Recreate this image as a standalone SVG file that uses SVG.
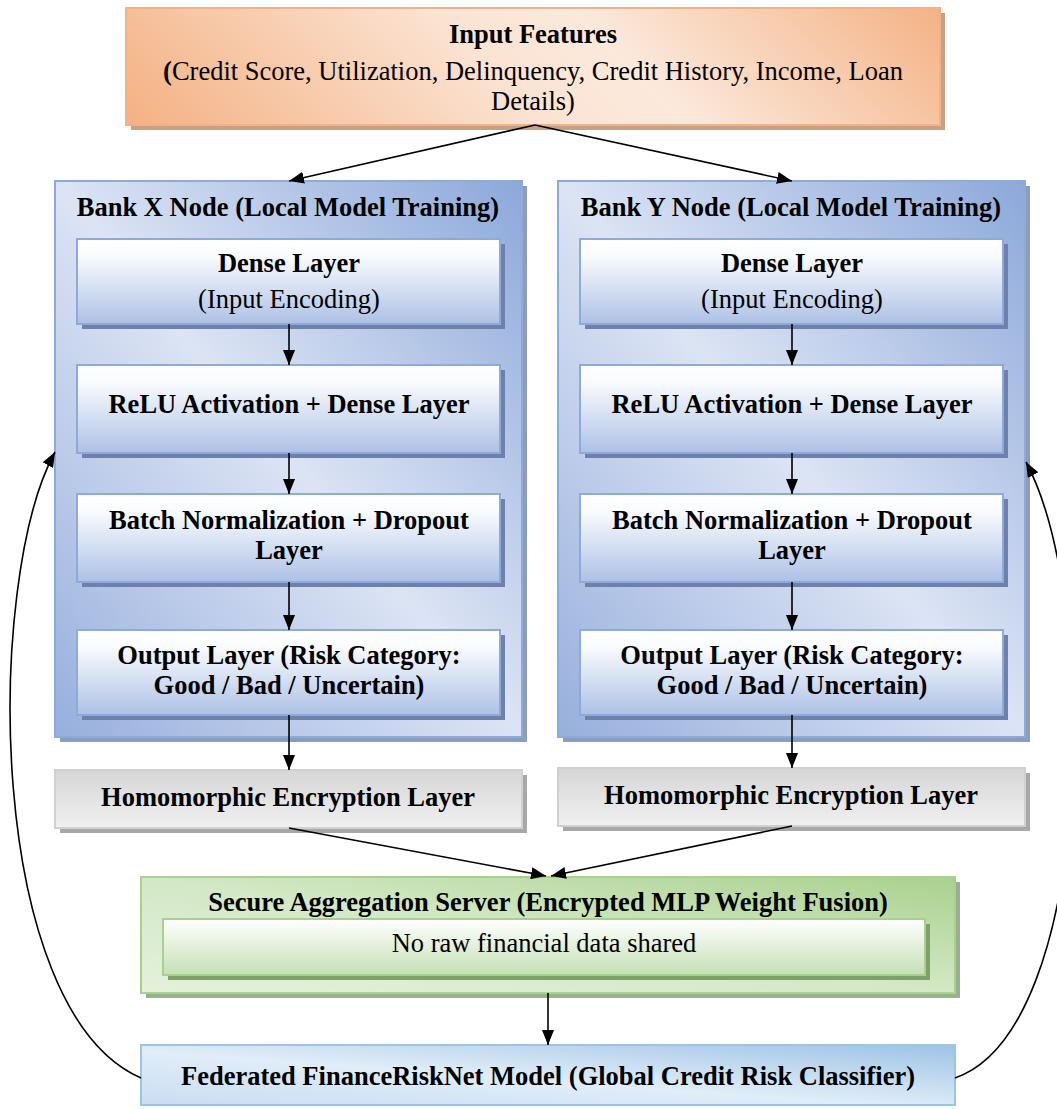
<svg xmlns="http://www.w3.org/2000/svg" width="1057" height="1109" viewBox="0 0 1057 1109">
<defs>
<style>
text{font-family:"Liberation Serif","Times New Roman",serif;font-size:26.5px;fill:#000;text-anchor:middle}
.b{font-weight:bold}
.conn{fill:none;stroke:#000;stroke-width:1.6}
</style>
<linearGradient id="gOr" gradientUnits="userSpaceOnUse" x1="300" y1="300" x2="770" y2="-170">
<stop offset="0" stop-color="#f4b183"/><stop offset="0.45" stop-color="#fbe3d2"/><stop offset="0.6" stop-color="#fce9dc"/><stop offset="1" stop-color="#f4b183"/>
</linearGradient>
<linearGradient id="gBank" x1="0" y1="1" x2="1" y2="0">
<stop offset="0" stop-color="#97afdd"/><stop offset="0.5" stop-color="#dce4f4"/><stop offset="1" stop-color="#8ca8da"/>
</linearGradient>
<linearGradient id="gLay" x1="0" y1="0" x2="0" y2="1">
<stop offset="0" stop-color="#ffffff"/><stop offset="0.2" stop-color="#f9fbfe"/><stop offset="1" stop-color="#adc1e5"/>
</linearGradient>
<linearGradient id="gGray" x1="0" y1="0" x2="0" y2="1">
<stop offset="0" stop-color="#d6d6d6"/><stop offset="1" stop-color="#f0f0f0"/>
</linearGradient>
<linearGradient id="gGreen" x1="0" y1="1" x2="1" y2="0">
<stop offset="0" stop-color="#e4f1dc"/><stop offset="0.5" stop-color="#d3e8c5"/><stop offset="1" stop-color="#a9d18e"/>
</linearGradient>
<linearGradient id="gGreenIn" x1="0" y1="0" x2="0" y2="1">
<stop offset="0" stop-color="#ffffff"/><stop offset="1" stop-color="#c5e0b4"/>
</linearGradient>
<linearGradient id="gFed" x1="0" y1="1" x2="1" y2="0">
<stop offset="0" stop-color="#c9ddf1"/><stop offset="0.45" stop-color="#e1edf8"/><stop offset="1" stop-color="#9dc3e6"/>
</linearGradient>
<marker id="ah" markerWidth="15" markerHeight="12" refX="15" refY="6" orient="auto" markerUnits="userSpaceOnUse">
<path d="M0,0 L15,6 L0,12 z" fill="#000"/>
</marker>
</defs>
<rect width="1057" height="1109" fill="#fff"/>

<g id="input-features">
<rect x="131" y="13" width="814" height="117" fill="#c4a18a"/>
<rect x="126" y="8" width="814" height="117" fill="url(#gOr)" stroke="#f4b183" stroke-width="2"/>
<text x="533" y="43" class="b">Input Features</text>
<text x="533" y="80"><tspan class="b">(</tspan>Credit Score, Utilization, Delinquency, Credit History, Income, Loan</text>
<text x="533" y="110">Details)</text>
</g>

<g id="bank-x">
<rect x="60" y="186" width="467" height="556" fill="#8d9cba"/>
<rect x="55" y="181" width="467" height="556" fill="url(#gBank)" stroke="#8eaadb" stroke-width="2"/>
<text x="288" y="216" class="b">Bank X Node (Local Model Training)</text>
</g>
<g id="bank-y">
<rect x="563" y="186" width="467" height="556" fill="#8d9cba"/>
<rect x="558" y="181" width="467" height="556" fill="url(#gBank)" stroke="#8eaadb" stroke-width="2"/>
<text x="791" y="216" class="b">Bank Y Node (Local Model Training)</text>
</g>

<g id="x-dense">
<rect x="82" y="244" width="423" height="85" fill="#6e81aa"/>
<rect x="77" y="239" width="423" height="85" fill="url(#gLay)" stroke="#8eaadb" stroke-width="2"/>
<text x="289" y="272" class="b">Dense Layer</text>
<text x="289" y="308">(Input Encoding)</text>
</g>
<g id="x-relu">
<rect x="82" y="370" width="423" height="88" fill="#6e81aa"/>
<rect x="77" y="365" width="423" height="88" fill="url(#gLay)" stroke="#8eaadb" stroke-width="2"/>
<text x="289" y="413" class="b">ReLU Activation + Dense Layer</text>
</g>
<g id="x-batch">
<rect x="82" y="499" width="423" height="88" fill="#6e81aa"/>
<rect x="77" y="494" width="423" height="88" fill="url(#gLay)" stroke="#8eaadb" stroke-width="2"/>
<text x="289" y="529" class="b">Batch Normalization + Dropout</text>
<text x="289" y="559" class="b">Layer</text>
</g>
<g id="x-output">
<rect x="82" y="635" width="423" height="85" fill="#6e81aa"/>
<rect x="77" y="630" width="423" height="85" fill="url(#gLay)" stroke="#8eaadb" stroke-width="2"/>
<text x="289" y="664" class="b">Output Layer (Risk Category:</text>
<text x="289" y="694" class="b">Good / Bad / Uncertain)</text>
</g>

<g id="y-dense">
<rect x="585" y="244" width="423" height="85" fill="#6e81aa"/>
<rect x="580" y="239" width="423" height="85" fill="url(#gLay)" stroke="#8eaadb" stroke-width="2"/>
<text x="792" y="272" class="b">Dense Layer</text>
<text x="792" y="308">(Input Encoding)</text>
</g>
<g id="y-relu">
<rect x="585" y="370" width="423" height="88" fill="#6e81aa"/>
<rect x="580" y="365" width="423" height="88" fill="url(#gLay)" stroke="#8eaadb" stroke-width="2"/>
<text x="792" y="413" class="b">ReLU Activation + Dense Layer</text>
</g>
<g id="y-batch">
<rect x="585" y="499" width="423" height="88" fill="#6e81aa"/>
<rect x="580" y="494" width="423" height="88" fill="url(#gLay)" stroke="#8eaadb" stroke-width="2"/>
<text x="792" y="529" class="b">Batch Normalization + Dropout</text>
<text x="792" y="559" class="b">Layer</text>
</g>
<g id="y-output">
<rect x="585" y="635" width="423" height="85" fill="#6e81aa"/>
<rect x="580" y="630" width="423" height="85" fill="url(#gLay)" stroke="#8eaadb" stroke-width="2"/>
<text x="792" y="664" class="b">Output Layer (Risk Category:</text>
<text x="792" y="694" class="b">Good / Bad / Uncertain)</text>
</g>

<g id="x-homomorphic">
<rect x="60" y="775" width="467" height="58" fill="#a8a8a8"/>
<rect x="55" y="770" width="467" height="58" fill="url(#gGray)" stroke="#d0d0d0" stroke-width="2"/>
<text x="288" y="806" class="b">Homomorphic Encryption Layer</text>
</g>
<g id="y-homomorphic">
<rect x="563" y="773" width="467" height="58" fill="#a8a8a8"/>
<rect x="558" y="768" width="467" height="58" fill="url(#gGray)" stroke="#d0d0d0" stroke-width="2"/>
<text x="791" y="804" class="b">Homomorphic Encryption Layer</text>
</g>

<g id="secure-aggregation">
<rect x="146" y="882" width="814" height="116" fill="#9aae90"/>
<rect x="141" y="877" width="814" height="116" fill="url(#gGreen)" stroke="#a9d18e" stroke-width="2"/>
<text x="548" y="911" class="b">Secure Aggregation Server (Encrypted MLP Weight Fusion)</text>
<rect x="168" y="924" width="762" height="56" fill="#7ea16a"/>
<rect x="163" y="919" width="762" height="56" fill="url(#gGreenIn)" stroke="#a9d18e" stroke-width="2"/>
<text x="544" y="952">No raw financial data shared</text>
</g>

<g id="federated-model">
<rect x="141" y="1045" width="814" height="60" fill="url(#gFed)" stroke="#9dc3e6" stroke-width="2"/>
<text x="548" y="1085" class="b">Federated FinanceRiskNet Model (Global Credit Risk Classifier)</text>
</g>

<g id="connectors">
<path class="conn" d="M535,125 L289,181" marker-end="url(#ah)"/>
<path class="conn" d="M535,125 L792,181" marker-end="url(#ah)"/>
<path class="conn" d="M289,324 L289,365" marker-end="url(#ah)"/>
<path class="conn" d="M289,453 L289,494" marker-end="url(#ah)"/>
<path class="conn" d="M289,582 L289,630" marker-end="url(#ah)"/>
<path class="conn" d="M289,715 L289,770" marker-end="url(#ah)"/>
<path class="conn" d="M792,324 L792,365" marker-end="url(#ah)"/>
<path class="conn" d="M792,453 L792,494" marker-end="url(#ah)"/>
<path class="conn" d="M792,582 L792,630" marker-end="url(#ah)"/>
<path class="conn" d="M792,715 L792,768" marker-end="url(#ah)"/>
<path class="conn" d="M289,828 L546,876" marker-end="url(#ah)"/>
<path class="conn" d="M792,826 L551,876" marker-end="url(#ah)"/>
<path class="conn" d="M548,993 L548,1045" marker-end="url(#ah)"/>
<path class="conn" d="M141,1078 C-15,1010 -15,580 55,452" marker-end="url(#ah)"/>
<path class="conn" d="M955,1078 C1095,1030 1100,600 1026,462" marker-end="url(#ah)"/>
</g>
</svg>
